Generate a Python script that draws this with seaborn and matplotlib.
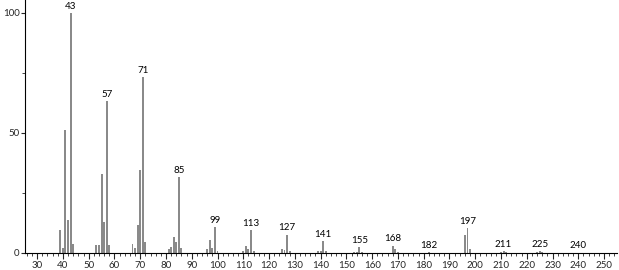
import matplotlib
matplotlib.use("Agg")
import matplotlib.pyplot as plt
import seaborn as sns
import pandas as pd
from matplotlib.ticker import MultipleLocator

mz = [39, 40, 41, 42, 43, 44, 53, 54, 55, 56, 57, 58, 67, 68, 69, 70, 71, 72,
      81, 82, 83, 84, 85, 86, 96, 97, 98, 99, 100, 110, 111, 112, 113, 114,
      125, 126, 127, 128, 139, 140, 141, 142, 153, 154, 155, 156, 168, 169, 170,
      182, 183, 196, 197, 198, 210, 211, 212, 224, 225, 226, 240]
intensity = [9.7, 2.0, 51.4, 13.9, 100, 3.9, 3.5, 3.3, 33.0, 12.8, 63.2, 3.4, 3.9, 2.0, 11.8, 34.7, 73.2, 4.4,
             1.5, 2.5, 6.7, 4.4, 31.7, 2.1, 1.5, 5.5, 2.1, 10.8, 0.8, 1.0, 3.0, 1.7, 9.4, 0.8,
             1.8, 1.2, 7.6, 0.8, 1.0, 0.8, 4.8, 0.8, 0.5, 0.5, 2.5, 0.3, 3.0, 1.8, 0.6,
             0.3, 0.2, 7.6, 10.4, 1.7, 0.4, 0.8, 0.4, 0.3, 0.7, 0.3, 0.2]
label_mz = [43, 57, 71, 85, 99, 113, 127, 141, 155, 168, 182, 197, 211, 225, 240]
x_ticks = list(range(30, 251, 10))
y_ticks = [0, 50, 100]

df = pd.DataFrame({"mz": mz, "intensity": intensity})

sns.set_style("white")
plt.rcParams["font.family"] = ["Lato", "DejaVu Sans"]

fig = plt.figure(figsize=(6.19, 2.70), dpi=100)
ax = fig.add_axes([25 / 619, 17 / 270, 592 / 619, 253 / 270])
sns.barplot(data=df, x="mz", y="intensity", native_scale=True, color="#8a8a8a",
            width=0.75, saturation=1, linewidth=0, ax=ax)

lookup = dict(zip(mz, intensity))
for m in label_mz:
    ax.text(m, lookup[m] + 1.0, str(m), ha="center", va="bottom", fontsize=7, color="black")

ax.set_xlim(25.3, 255)
ax.set_ylim(0, 105.4)
ax.set_xticks(x_ticks)
ax.set_xticklabels([str(t) for t in x_ticks], fontsize=7)
ax.xaxis.set_minor_locator(MultipleLocator(2))
ax.set_yticks(y_ticks)
ax.set_yticklabels([str(t) for t in y_ticks], fontsize=7)
ax.yaxis.set_minor_locator(MultipleLocator(25))
ax.tick_params(axis="x", which="major", direction="out", length=4, width=0.8, pad=2, bottom=True)
ax.tick_params(axis="x", which="minor", direction="out", length=2, width=0.6, bottom=True)
ax.tick_params(axis="y", which="major", direction="out", length=3, width=0.8, pad=1, left=True)
ax.tick_params(axis="y", which="minor", direction="out", length=2, width=0.6, left=True)
ax.set_xlabel("")
ax.set_ylabel("")
for s in ["top", "right"]:
    ax.spines[s].set_visible(False)
for s in ["left", "bottom"]:
    ax.spines[s].set_color("black")
    ax.spines[s].set_linewidth(0.8)

fig.savefig("out.png", dpi=100)
